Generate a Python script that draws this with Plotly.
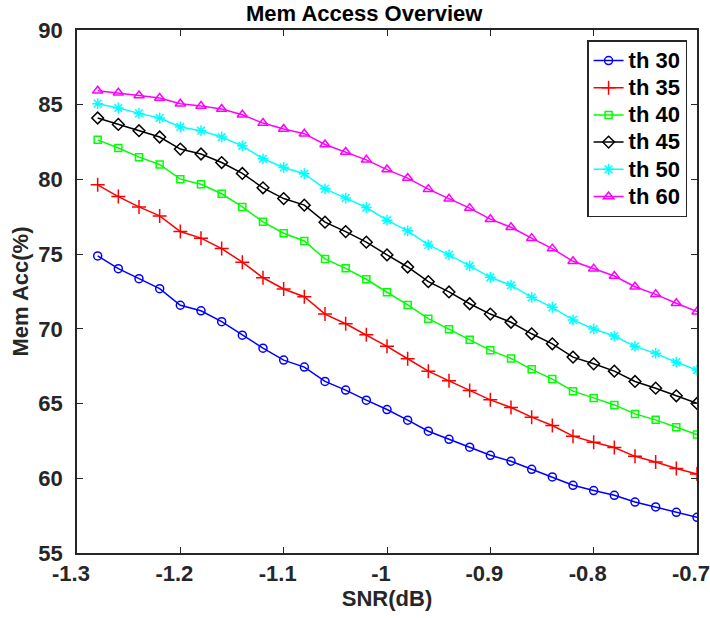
import plotly.graph_objects as go

snr = [round(-1.28 + 0.02 * i, 2) for i in range(30)]

th30 = [74.88, 74.03, 73.36, 72.69, 71.58, 71.21, 70.48, 69.58, 68.71, 67.91,
        67.44, 66.48, 65.90, 65.23, 64.60, 63.89, 63.15, 62.61, 62.08, 61.54,
        61.14, 60.60, 60.09, 59.53, 59.18, 58.86, 58.41, 58.08, 57.72, 57.39]
th35 = [79.64, 78.85, 78.16, 77.56, 76.51, 76.07, 75.37, 74.46, 73.42, 72.67,
        72.15, 70.99, 70.34, 69.60, 68.83, 68.00, 67.17, 66.52, 65.88, 65.25,
        64.74, 64.09, 63.53, 62.82, 62.41, 62.06, 61.47, 61.09, 60.65, 60.29]
th40 = [82.65, 82.10, 81.49, 81.00, 80.02, 79.68, 79.04, 78.16, 77.16, 76.40,
        75.88, 74.68, 74.05, 73.32, 72.45, 71.60, 70.68, 69.97, 69.27, 68.56,
        68.02, 67.29, 66.64, 65.83, 65.38, 64.91, 64.31, 63.91, 63.42, 62.93]
th45 = [84.11, 83.68, 83.26, 82.84, 82.03, 81.70, 81.13, 80.40, 79.44, 78.72,
        78.28, 77.14, 76.51, 75.80, 74.95, 74.14, 73.16, 72.47, 71.68, 70.99,
        70.44, 69.67, 69.00, 68.11, 67.66, 67.17, 66.48, 66.03, 65.52, 65.01]
th50 = [85.07, 84.78, 84.42, 84.11, 83.51, 83.26, 82.84, 82.25, 81.38, 80.80,
        80.38, 79.37, 78.75, 78.12, 77.27, 76.56, 75.62, 74.95, 74.21, 73.45,
        72.92, 72.11, 71.44, 70.60, 69.99, 69.52, 68.83, 68.36, 67.77, 67.24]
th60 = [85.94, 85.80, 85.62, 85.45, 85.07, 84.91, 84.71, 84.33, 83.77, 83.37,
        83.06, 82.34, 81.83, 81.31, 80.66, 80.09, 79.35, 78.70, 78.08, 77.34,
        76.80, 76.07, 75.37, 74.52, 74.03, 73.54, 72.82, 72.31, 71.71, 71.15]

x_ticks = [-1.3, -1.2, -1.1, -1.0, -0.9, -0.8, -0.7]
x_labels = ["-1.3", "-1.2", "-1.1", "-1", "-0.9", "-0.8", "-0.7"]
y_ticks = [55, 60, 65, 70, 75, 80, 85, 90]

names = ["th 30", "th 35", "th 40", "th 45", "th 50", "th 60"]
colors = ["#0000ff", "#ff0000", "#00ff00", "#000000", "#00ffff", "#ff00ff"]
symbols = ["circle-open", "cross-thin-open", "square-open", "diamond-open",
           "asterisk-open", "triangle-up-open"]
sizes = [8, 10, 7, 9, 9, 9]
series = [th30, th35, th40, th45, th50, th60]

fig = go.Figure()
for name, col, sym, sz, ys in zip(names, colors, symbols, sizes, series):
    fig.add_trace(go.Scatter(
        x=snr, y=ys,
        name="<span style='font-size:22px'><b>" + name + "</b></span>",
        mode="lines+markers",
        line=dict(color=col, width=1.5),
        marker=dict(symbol=sym, size=sz, color=col, line=dict(color=col, width=1.5)),
    ))

font_family = "Liberation Sans, Arial, sans-serif"
axis_common = dict(
    showline=True, linecolor="#262626", linewidth=1.5, mirror="ticks",
    ticks="inside", ticklen=6, tickwidth=1, tickcolor="#262626",
    showgrid=False, zeroline=False, ticklabeloverflow="allow", automargin=False,
    tickfont=dict(family=font_family, size=22, color="#262626"),
)

fig.update_layout(
    width=710, height=618,
    margin=dict(l=77, r=13, t=30, b=65),
    paper_bgcolor="white", plot_bgcolor="white",
    title=dict(text="<b>Mem Access Overview</b>", x=0.513, xanchor="center",
               y=0.979, yanchor="middle",
               font=dict(family=font_family, size=22, color="black")),
    xaxis=dict(range=[-1.3, -0.7], tickvals=x_ticks,
               ticktext=["<b>" + t + "</b>" for t in x_labels],
               ticklabelshift=-6, ticklabelstandoff=0,
               title=dict(text="<b>SNR(dB)</b>", standoff=3,
                          font=dict(family=font_family, size=22, color="#262626")),
               **axis_common),
    yaxis=dict(range=[55, 90], tickvals=y_ticks,
               ticktext=["<b>%d</b>" % v for v in y_ticks],
               ticklabelstandoff=8,
               title=dict(text="<b>Mem Acc(%)</b>", standoff=4,
                          font=dict(family=font_family, size=22, color="#262626")),
               **axis_common),
    legend=dict(x=0.984, y=0.98, xanchor="right", yanchor="top",
                bgcolor="white", bordercolor="#262626", borderwidth=1.5,
                font=dict(family=font_family, size=18.6, color="black"),
                itemwidth=30, tracegroupgap=0),
    showlegend=True,
)

fig.write_html("out.html")
